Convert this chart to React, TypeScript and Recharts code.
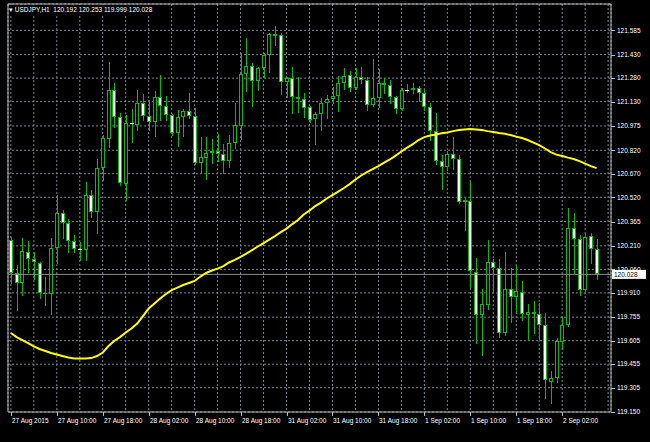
import React from 'react';
import {
  ComposedChart,
  Bar,
  Line,
  XAxis,
  YAxis,
  CartesianGrid,
  ReferenceLine,
  ReferenceArea,
} from 'recharts';

const symbol = 'USDJPY,H1';

const timeLabels = [
  '27 Aug 2015', '27 Aug 10:00', '27 Aug 18:00', '28 Aug 02:00', '28 Aug 10:00',
  '28 Aug 18:00', '31 Aug 02:00', '31 Aug 10:00', '31 Aug 18:00', '1 Sep 02:00',
  '1 Sep 10:00', '1 Sep 18:00', '2 Sep 02:00',
];

const priceTicks = [
  121.74, 121.585, 121.43, 121.28, 121.13, 120.975, 120.82, 120.67, 120.52,
  120.365, 120.21, 120.06, 119.91, 119.755, 119.605, 119.455, 119.305, 119.15,
];

const open = [
  120.247, 120.037, 119.973, 120.171, 120.126, 120.100, 119.903, 119.903, 120.196, 120.419,
  120.356, 120.241, 120.190, 120.183, 120.534, 120.426, 120.706, 120.891, 121.204, 121.032,
  120.604, 120.993, 120.981, 121.121, 121.038, 121.000, 121.159, 121.102, 121.044, 120.930,
  121.032, 121.070, 121.038, 120.738, 120.770, 120.802, 120.815, 120.796, 120.751, 120.866,
  120.974, 121.306, 121.357, 121.261, 121.344, 121.427, 121.561, 121.555, 121.255, 121.280,
  121.159, 121.146, 121.095, 121.019, 121.051, 121.121, 121.146, 121.166, 121.248, 121.300,
  121.217, 121.287, 121.268, 121.108, 121.153, 121.248, 121.236, 121.159, 121.083, 121.204,
  121.204, 121.217, 121.185, 121.095, 120.942, 120.751, 120.713, 120.796, 120.764, 120.489,
  120.496, 120.043, 119.769, 119.832, 120.107, 120.068, 119.654, 119.935, 119.883, 119.915,
  119.769, 119.775, 119.775, 119.705, 119.341, 119.367, 119.596, 119.705, 120.324, 120.253,
  119.928, 120.273, 120.192,
];

const high = [
  120.266, 120.088, 120.260, 120.241, 120.171, 120.104, 120.011, 120.260, 120.534, 120.438,
  120.381, 120.279, 120.234, 120.617, 120.566, 120.764, 120.917, 121.383, 121.248, 121.057,
  121.044, 121.083, 121.204, 121.178, 121.140, 121.197, 121.300, 121.166, 121.051, 121.076,
  121.083, 121.185, 121.089, 120.904, 120.904, 120.891, 120.923, 120.859, 120.917, 121.121,
  121.440, 121.536, 121.376, 121.351, 121.440, 121.568, 121.612, 121.568, 121.287, 121.351,
  121.287, 121.185, 121.102, 121.064, 121.153, 121.172, 121.223, 121.293, 121.344, 121.325,
  121.344, 121.351, 121.287, 121.402, 121.338, 121.280, 121.268, 121.166, 121.217, 121.242,
  121.248, 121.229, 121.204, 121.121, 121.057, 120.789, 120.815, 120.904, 120.789, 120.521,
  120.617, 120.132, 119.935, 120.247, 120.126, 120.126, 120.171, 120.068, 120.088, 119.986,
  119.839, 119.858, 119.845, 119.781, 119.411, 119.622, 119.756, 120.451, 120.419, 120.279,
  120.292, 120.292, 120.253,
];

const low = [
  119.973, 119.801, 119.896, 120.043, 119.998, 119.877, 119.832, 119.775, 120.100, 120.260,
  120.171, 120.171, 120.120, 120.120, 120.394, 120.292, 120.630, 120.840, 120.968, 120.598,
  120.502, 120.872, 120.949, 121.013, 120.949, 120.911, 121.013, 121.013, 120.917, 120.847,
  120.911, 121.025, 120.732, 120.674, 120.636, 120.738, 120.751, 120.674, 120.713, 120.834,
  120.891, 121.197, 121.102, 121.204, 121.287, 121.319, 121.491, 121.178, 121.159, 121.057,
  121.064, 121.032, 121.000, 120.859, 120.949, 121.025, 121.121, 121.070, 121.210, 121.197,
  121.210, 121.248, 121.076, 121.102, 121.095, 121.185, 121.121, 121.057, 121.076, 121.191,
  121.185, 121.134, 121.076, 120.885, 120.732, 120.572, 120.694, 120.700, 120.482, 120.311,
  119.947, 119.590, 119.514, 119.807, 119.922, 119.628, 119.641, 119.724, 119.781, 119.737,
  119.609, 119.654, 119.616, 119.239, 119.207, 119.341, 119.552, 119.698, 120.037, 119.896,
  119.915, 120.100, 119.999,
];

const close = [
  120.037, 119.973, 120.177, 120.126, 120.107, 119.909, 119.909, 120.196, 120.419, 120.356,
  120.241, 120.190, 120.183, 120.534, 120.426, 120.706, 120.898, 121.204, 121.032, 120.611,
  120.993, 120.990, 121.121, 121.038, 121.000, 121.159, 121.102, 121.044, 120.930, 121.032,
  121.070, 121.038, 120.738, 120.777, 120.802, 120.815, 120.796, 120.751, 120.866, 120.981,
  121.306, 121.357, 121.261, 121.344, 121.427, 121.561, 121.548, 121.255, 121.280, 121.159,
  121.146, 121.089, 121.013, 121.051, 121.121, 121.146, 121.166, 121.248, 121.293, 121.217,
  121.287, 121.268, 121.108, 121.153, 121.248, 121.236, 121.159, 121.083, 121.204, 121.197,
  121.217, 121.185, 121.095, 120.942, 120.751, 120.713, 120.796, 120.764, 120.489, 120.502,
  120.049, 119.769, 119.839, 120.107, 120.068, 119.654, 119.935, 119.883, 119.922, 119.775,
  119.788, 119.788, 119.705, 119.354, 119.367, 119.603, 119.705, 120.324, 120.253, 119.928,
  120.266, 120.190, 120.028,
];

// moving average (yellow)
const ma = [
  119.654, 119.628, 119.609, 119.590, 119.568, 119.552, 119.539, 119.526, 119.517, 119.507,
  119.498, 119.492, 119.491, 119.491, 119.494, 119.507, 119.529, 119.571, 119.603, 119.628,
  119.657, 119.683, 119.714, 119.762, 119.810, 119.842, 119.874, 119.903, 119.928, 119.944,
  119.960, 119.973, 119.986, 120.014, 120.037, 120.053, 120.065, 120.081, 120.104, 120.120,
  120.139, 120.161, 120.183, 120.206, 120.228, 120.250, 120.273, 120.298, 120.320, 120.349,
  120.375, 120.410, 120.435, 120.464, 120.486, 120.512, 120.534, 120.556, 120.579, 120.604,
  120.633, 120.659, 120.681, 120.700, 120.719, 120.741, 120.761, 120.786, 120.812, 120.837,
  120.859, 120.885, 120.904, 120.914, 120.921, 120.928, 120.933, 120.942, 120.949, 120.952,
  120.955, 120.952, 120.949, 120.942, 120.936, 120.930, 120.925, 120.917, 120.907, 120.898,
  120.885, 120.869, 120.853, 120.831, 120.808, 120.792, 120.783, 120.773, 120.764, 120.751,
  120.735, 120.719, 120.706,
];

const headerValues = [120.192, 120.253, 119.999, 120.028];
const lastClose = 120.028;
const shiftBars = 2; // empty space at the right (chart shift)

const GREEN = '#00c000';
const FRAME = '#b8b8b8';
const GRID = '#77838f';
const FONT = 'Tahoma, "Liberation Sans", Arial, sans-serif';

const data = Array.from({ length: open.length + shiftBars }, (_, i) => ({
  i,
  o: i < open.length ? open[i] : null,
  h: i < open.length ? high[i] : null,
  l: i < open.length ? low[i] : null,
  c: i < open.length ? close[i] : null,
  range: i < open.length ? [low[i], high[i]] : null,
  ma: i < ma.length ? ma[i] : null,
}));

function Candle(props: any) {
  const { x, y, width, height, payload } = props;
  if (!payload || payload.o == null || y == null) return null;
  const { o, h, l, c } = payload;
  const top = Math.min(y, y + height);
  const hgt = Math.abs(height);
  const ppu = h - l > 0 ? hgt / (h - l) : 0;
  const r = Math.round(x + width / 2);
  const t = Math.round(top + (h - Math.max(o, c)) * ppu);
  const b = Math.round(top + (h - Math.min(o, c)) * ppu);
  let body;
  if (b - t < 2) {
    body = <line x1={r - 2} x2={r + 2} y1={t + 0.5} y2={t + 0.5} stroke={c < o ? '#ffffff' : GREEN} />;
  } else {
    body = (
      <rect
        x={r - 1.5}
        y={t + 0.5}
        width={3}
        height={b - t - 1}
        fill={c < o ? '#ffffff' : '#000000'}
        stroke={GREEN}
      />
    );
  }
  return (
    <g>
      <line x1={r + 0.5} x2={r + 0.5} y1={Math.round(top)} y2={Math.round(top + hgt) + 1} stroke={GREEN} />
      {body}
    </g>
  );
}

function TimeTick(props: any) {
  const { x, y, payload } = props;
  const idx = Number(payload.value);
  if (idx % 8 !== 0) return null;
  const label = timeLabels[idx / 8];
  if (!label) return null;
  const px = Math.round(x) + 0.5;
  return (
    <g>
      <line x1={px} x2={px} y1={y} y2={y + 4} stroke={FRAME} />
      <text x={px + 0.5} y={y + 11} fill="#ffffff" fontSize={6.5} fontFamily={FONT}>
        {label}
      </text>
    </g>
  );
}

function PriceTick(props: any) {
  const { x, y, payload } = props;
  return (
    <g>
      <line x1={x} x2={x + 4} y1={Math.round(y) + 0.5} y2={Math.round(y) + 0.5} stroke={FRAME} />
      <text x={x + 6} y={y} dy="0.35em" fill="#ffffff" fontSize={6.5} fontFamily={FONT}>
        {Number(payload.value).toFixed(3)}
      </text>
    </g>
  );
}

function PriceTag(props: any) {
  const vb = props.viewBox || {};
  const tx = vb.x + vb.width + 1;
  const ty = vb.y;
  return (
    <g>
      <rect x={tx} y={ty - 4.5} width={34} height={9} fill="#ffffff" />
      <text x={tx + 2} y={ty} dy="0.35em" fill="#000000" fontSize={6.5} fontFamily={FONT}>
        {lastClose.toFixed(3)}
      </text>
    </g>
  );
}

export default function App() {
  return (
    <div style={{ position: 'absolute', left: 0, top: 0, width: 650, height: 442, background: '#000000' }}>
      <ComposedChart
        width={650}
        height={442}
        data={data}
        margin={{ top: 4, right: 0, bottom: 0, left: 8 }}
        style={{ background: '#000000' }}
      >
        <CartesianGrid stroke={GRID} strokeDasharray="2 2" />
        <XAxis
          dataKey="i"
          type="category"
          interval={3}
          height={30}
          tickSize={0}
          tickMargin={0}
          axisLine={false}
          tickLine={false}
          tick={<TimeTick />}
        />
        <YAxis
          orientation="right"
          domain={[119.15, 121.753]}
          ticks={priceTicks}
          width={39}
          tickSize={0}
          tickMargin={0}
          axisLine={false}
          tickLine={false}
          tick={<PriceTick />}
          allowDataOverflow
        />
        <ReferenceArea y1={119.15} y2={121.753} fill="none" stroke={FRAME} ifOverflow="visible" />
        <ReferenceLine y={lastClose} stroke="#8c8c8c" label={<PriceTag />} ifOverflow="visible" />
        <Bar dataKey="range" barSize={4} shape={<Candle />} isAnimationActive={false} />
        <Line
          dataKey="ma"
          type="linear"
          stroke="#ffff00"
          strokeWidth={2}
          dot={false}
          activeDot={false}
          isAnimationActive={false}
        />
      </ComposedChart>
      <div
        style={{
          position: 'absolute',
          left: 9,
          top: 5,
          color: '#ffffff',
          fontFamily: FONT,
          fontSize: 6.5,
          lineHeight: '9px',
          whiteSpace: 'pre',
          background: '#000000',
        }}
      >
        {'\u25BE ' + symbol + '  ' + headerValues.map((v) => v.toFixed(3)).join(' ')}
      </div>
    </div>
  );
}
